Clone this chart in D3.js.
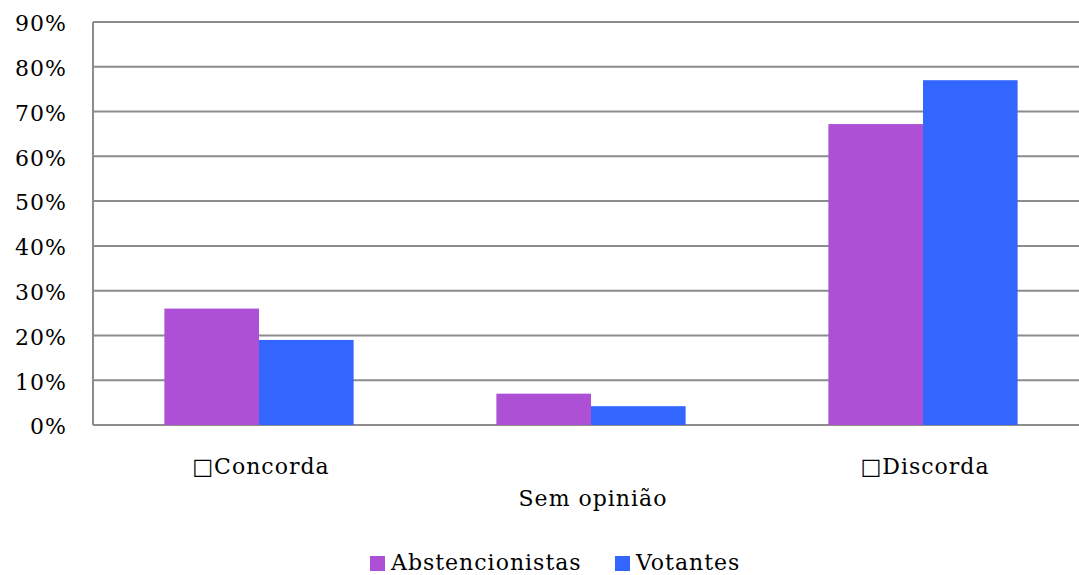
<!DOCTYPE html>
<html><head><meta charset="utf-8">
<script src="https://cdn.jsdelivr.net/npm/d3@7"></script>
<style>body{margin:0;background:#fff}svg{display:block}</style>
</head><body>
<svg id="c" width="1079" height="575"></svg>
<script>
const categories = ["\u25A1Concorda", "Sem opinião", "\u25A1Discorda"];
const seriesNames = ["Abstencionistas", "Votantes"];
const abstencionistas = [26, 7, 67.2];
const votantes = [19, 4.2, 77];
const yTicks = [0, 10, 20, 30, 40, 50, 60, 70, 80, 90];
const colors = ["#AD50D6", "#3366FF"];

(function () {
const svg = d3.select("#c");
const font = "'DejaVu Serif', serif";
const fs = 22, ls = 1;
const pLeft = 93, pRight = 1089, pTop = 22, pBottom = 425;

const x = d3.scaleBand().domain(categories).range([pLeft, pRight]).paddingInner(0.43).paddingOuter(0.215);
const xs = d3.scaleBand().domain(seriesNames).range([0, x.bandwidth()]);
const y = d3.scaleLinear().domain([0, 90]).range([pBottom, pTop]);

svg.append("g").selectAll("line").data(yTicks).join("line")
  .attr("x1", pLeft).attr("x2", pRight)
  .attr("y1", d => y(d)).attr("y2", d => y(d))
  .attr("stroke", "#8c8c8c").attr("stroke-width", 2);
svg.append("line").attr("x1", pLeft).attr("x2", pLeft).attr("y1", pTop).attr("y2", pBottom)
  .attr("stroke", "#8c8c8c").attr("stroke-width", 2);

const yAxis = d3.axisLeft(y).tickValues(yTicks).tickFormat(d => d + "%").tickSize(0).tickPadding(26);
const ya = svg.append("g").attr("transform", `translate(${pLeft},0)`).call(yAxis);
ya.select(".domain").remove();
ya.selectAll("text").attr("font-family", font).attr("font-size", fs).attr("letter-spacing", ls)
  .attr("fill", "#000").attr("dy", "0.4em");

const data = [abstencionistas, votantes];
seriesNames.forEach((s, i) => {
  svg.append("g").selectAll("rect").data(categories).join("rect")
    .attr("x", c => x(c) + xs(s)).attr("width", xs.bandwidth())
    .attr("y", (c, j) => y(data[i][j])).attr("height", (c, j) => y(0) - y(data[i][j]))
    .attr("fill", colors[i]);
});

const xa = svg.append("g");
categories.forEach((c, j) => {
  xa.append("text").attr("x", x(c) + x.bandwidth() / 2 + 2).attr("y", j % 2 === 0 ? 474 : 506)
    .attr("text-anchor", "middle").attr("font-family", font).attr("font-size", fs).attr("letter-spacing", ls)
    .attr("fill", "#000").text(c);
});

const lg = svg.append("g");
const lx = [370, 615];
seriesNames.forEach((s, i) => {
  lg.append("rect").attr("x", lx[i]).attr("y", 556).attr("width", 15).attr("height", 15).attr("fill", colors[i]);
  lg.append("text").attr("x", lx[i] + 21).attr("y", 570).attr("font-family", font).attr("font-size", fs)
    .attr("letter-spacing", ls).attr("fill", "#000").text(s);
});
})();
</script>
</body></html>
